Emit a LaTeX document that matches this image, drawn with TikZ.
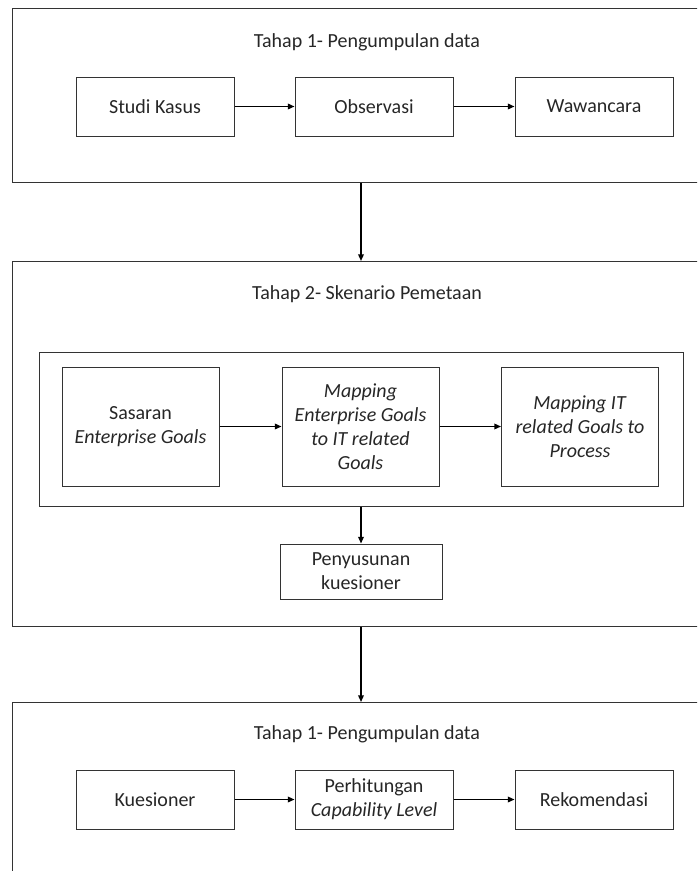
\documentclass[tikz,border=0pt]{standalone}
\usepackage{fontspec}
\setmainfont{Carlito}
\usetikzlibrary{arrows.meta}

\begin{document}
\begin{tikzpicture}[x=0.75pt, y=-0.75pt,
    font=\fontsize{15}{18}\selectfont, text=black!85,
    tahap/.style={draw=black!80, line width=0.75pt, anchor=north west,
      minimum width=520.5pt, inner sep=0pt},
    kotak/.style={draw=black!80, line width=0.75pt, align=center,
      minimum width=118.5pt, minimum height=44.25pt, inner sep=1pt},
    kotakbesar/.style={kotak, minimum width=117.75pt, minimum height=89.25pt},
    arr/.style={black, line width=1.1pt, -{Triangle[length=5pt,width=4.2pt]}}]
        \useasboundingbox (0,0) rectangle (697,871);
        \clip (0,0) rectangle (697,871);

        % tiga tahap
        \node[tahap, minimum height=130.5pt]  (tahap1) at (12,8)   {};
        \node[tahap, minimum height=273.75pt] (tahap2) at (12,261) {};
        \node[tahap, minimum height=140pt]    (tahap3) at (12,702) {};

        % tahap 1
        \node (judul1) at (367,42) {Tahap 1- Pengumpulan data};
        \node[kotak] (studi) at (155,106.5) {Studi Kasus};
        \node[kotak] (obs)   at (374,106.5) {Observasi};
        \node[kotak] (waw)   at (594,106.5) {Wawancara};
        \draw[arr] (studi) -- (obs);
        \draw[arr] (obs) -- (waw);

        % tahap 2
        \node (judul2) at (367,294) {Tahap 2- Skenario Pemetaan};
        \node[draw=black!80, line width=0.75pt, minimum width=483pt, minimum height=115.5pt]
            (bingkai) at (361,429) {};
        \node[kotakbesar] (sasaran) at (140.5,426.5) {Sasaran\\\textit{Enterprise Goals}};
        \node[kotakbesar] (mapeg)   at (360.5,426.5) {\textit{Mapping}\\\textit{Enterprise Goals}\\\textit{to IT related}\\\textit{Goals}};
        \node[kotakbesar] (mapit)   at (580,426.5)   {\textit{Mapping IT}\\\textit{related Goals to}\\\textit{Process}};
        \draw[arr] (sasaran) -- (mapeg);
        \draw[arr] (mapeg) -- (mapit);
        \node[kotak, minimum width=121.5pt, minimum height=41.25pt] (peny) at (361,571.5) {Penyusunan\\kuesioner};
        \draw[arr] (bingkai) -- (peny);

        % tahap 3
        \node (judul3) at (367,734) {Tahap 1- Pengumpulan data};
        \node[kotak] (kues)  at (155,799.5) {Kuesioner};
        \node[kotak] (hitung) at (374,799.5) {Perhitungan\\\textit{Capability Level}};
        \node[kotak] (rekom) at (594,799.5) {Rekomendasi};
        \draw[arr] (kues) -- (hitung);
        \draw[arr] (hitung) -- (rekom);

        % antar tahap
        \draw[arr] (tahap1.south -| peny) -- (tahap2.north -| peny);
        \draw[arr] (tahap2.south -| peny) -- (tahap3.north -| peny);
\end{tikzpicture}
\end{document}
